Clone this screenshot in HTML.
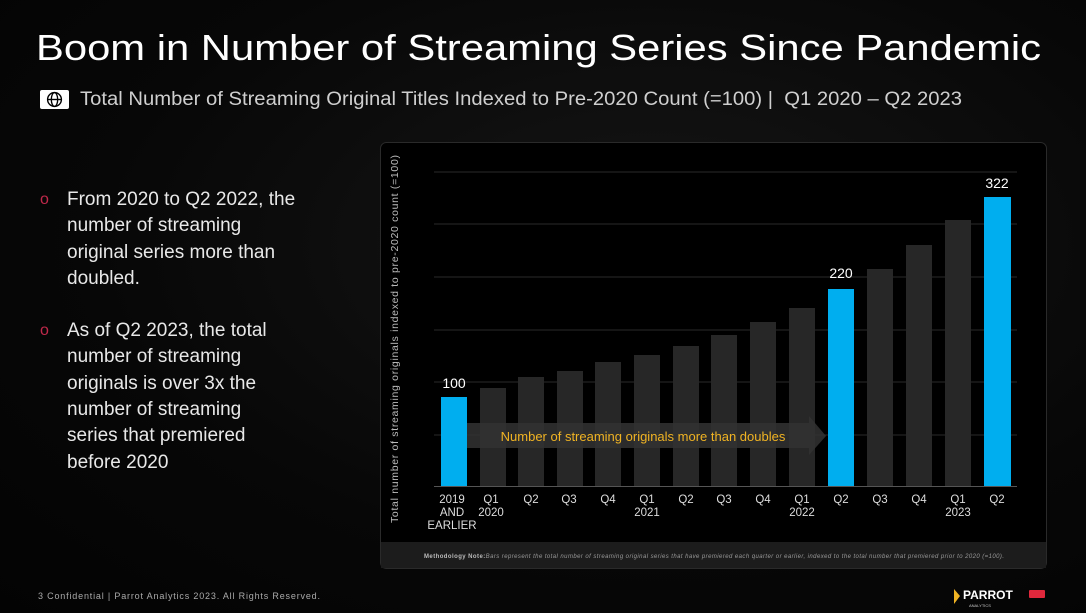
<!DOCTYPE html>
<html><head><style>
body{margin:0;width:1086px;height:613px;background:#050505;overflow:hidden;font-family:"Liberation Sans",sans-serif;position:relative;color:#fff}
.t{position:absolute;white-space:nowrap;transform-origin:0 0}
</style></head><body>
<div style="position:absolute;inset:0;background:radial-gradient(ellipse at 60% 40%,#161616 0%,#070707 60%,#030303 100%)"></div>
<div class="t" style="left:36px;top:27px;font-size:36px;color:#fff;transform:scaleX(1.16)">Boom in Number of Streaming Series Since Pandemic</div>
<div style="position:absolute;left:40px;top:90px;width:29px;height:19px;background:#fff;border-radius:2px"></div>
<svg style="position:absolute;left:46px;top:91px" width="17" height="17" viewBox="0 0 16 16"><g fill="none" stroke="#000" stroke-width="1.3"><circle cx="8" cy="8" r="6.5"/><ellipse cx="8" cy="8" rx="3" ry="6.5"/><line x1="1.5" y1="8" x2="14.5" y2="8"/></g></svg>
<div class="t" style="left:80px;top:89px;font-size:19px;color:#cfcfcf;transform:scaleX(1.065)">Total Number of Streaming Original Titles Indexed to Pre-2020 Count (=100) |&nbsp;&nbsp;Q1 2020 – Q2 2023</div>
<div style="position:absolute;left:40px;top:187px;font-size:19px;line-height:26.3px;color:#e8e8e8;white-space:nowrap">
<div style="position:relative;padding-left:27px"><span style="position:absolute;left:0;color:#c0284a;font-size:16px">o</span>From 2020 to Q2 2022, the<br>number of streaming<br>original series more than<br>doubled.</div>
<div style="position:relative;padding-left:27px;margin-top:26px"><span style="position:absolute;left:0;color:#c0284a;font-size:16px">o</span>As of Q2 2023, the total<br>number of streaming<br>originals is over 3x the<br>number of streaming<br>series that premiered<br>before 2020</div>
</div>
<svg style="position:absolute;left:0;top:0" width="1086" height="613">
<rect x="380.5" y="142.5" width="666" height="426" rx="6" fill="#000" stroke="#2a2a2a"/>
<rect x="381" y="542" width="665" height="26" fill="#1c1c1c"/>
<g stroke="#2a2a2a" stroke-width="1">
<line x1="434" x2="1017" y1="172" y2="172"/><line x1="434" x2="1017" y1="224" y2="224"/><line x1="434" x2="1017" y1="277" y2="277"/><line x1="434" x2="1017" y1="330" y2="330"/><line x1="434" x2="1017" y1="382" y2="382"/><line x1="434" x2="1017" y1="435" y2="435"/>
</g>
<line x1="434" x2="1017" y1="486.5" y2="486.5" stroke="#555"/>
<g fill="#272727">
<rect x="480" y="388" width="26" height="98"/><rect x="518" y="377" width="26" height="109"/><rect x="557" y="371" width="26" height="115"/><rect x="595" y="362" width="26" height="124"/><rect x="634" y="355" width="26" height="131"/><rect x="673" y="346" width="26" height="140"/><rect x="711" y="335" width="26" height="151"/><rect x="750" y="322" width="26" height="164"/><rect x="789" y="308" width="26" height="178"/><rect x="867" y="269" width="26" height="217"/><rect x="906" y="245" width="26" height="241"/><rect x="945" y="220" width="26" height="266"/>
</g>
<g fill="#00aeef">
<rect x="441" y="397" width="26" height="89"/><rect x="828" y="289" width="26" height="197"/><rect x="984" y="197" width="27" height="289"/>
</g>
<polygon points="467,423 809,423 809,416 826,436 809,455 809,448 467,448" fill="#333" opacity="0.85"/>
<g font-family="Liberation Sans,sans-serif" font-size="14" fill="#fff" text-anchor="middle">
<text x="454" y="388">100</text><text x="841" y="278">220</text><text x="997" y="188">322</text>
</g>
<text x="643" y="441" font-family="Liberation Sans,sans-serif" font-size="13" fill="#f0b323" text-anchor="middle">Number of streaming originals more than doubles</text>
<g font-family="Liberation Sans,sans-serif" font-size="11.5" fill="#ddd" text-anchor="middle">
<text x="452" y="503">2019</text><text x="452" y="516">AND</text><text x="452" y="529">EARLIER</text>
<text x="491" y="503">Q1</text><text x="491" y="516">2020</text><text x="531" y="503">Q2</text><text x="569" y="503">Q3</text><text x="608" y="503">Q4</text>
<text x="647" y="503">Q1</text><text x="647" y="516">2021</text><text x="686" y="503">Q2</text><text x="724" y="503">Q3</text><text x="763" y="503">Q4</text>
<text x="802" y="503">Q1</text><text x="802" y="516">2022</text><text x="841" y="503">Q2</text><text x="880" y="503">Q3</text><text x="919" y="503">Q4</text>
<text x="958" y="503">Q1</text><text x="958" y="516">2023</text><text x="997" y="503">Q2</text>
</g>
<text transform="translate(398,523) rotate(-90)" font-family="Liberation Sans,sans-serif" font-size="10.5" fill="#bbb" textLength="368">Total number of streaming originals indexed to pre-2020 count (=100)</text>
<text x="424" y="558" font-family="Liberation Sans,sans-serif" font-size="6" fill="#999" textLength="580"><tspan font-weight="bold" fill="#bbb">Methodology Note:</tspan><tspan font-style="italic">Bars represent the total number of streaming original series that have premiered each quarter or earlier, indexed to the total number that premiered prior to 2020 (=100).</tspan></text>
<text x="38" y="599" font-family="Liberation Sans,sans-serif" font-size="9" fill="#aaa" textLength="282">3  Confidential  |  Parrot Analytics 2023. All Rights Reserved.</text>
<polygon points="954,589 960,596 954,604" fill="#f0b323"/>
<text x="963" y="599" font-family="Liberation Sans,sans-serif" font-size="12" font-weight="bold" fill="#fff">PARROT</text>
<text x="969" y="607" font-family="Liberation Sans,sans-serif" font-size="4" fill="#ccc">ANALYTICS</text>
<rect x="1029" y="590" width="16" height="8" rx="1" fill="#e0283c"/>
</svg>
</body></html>
